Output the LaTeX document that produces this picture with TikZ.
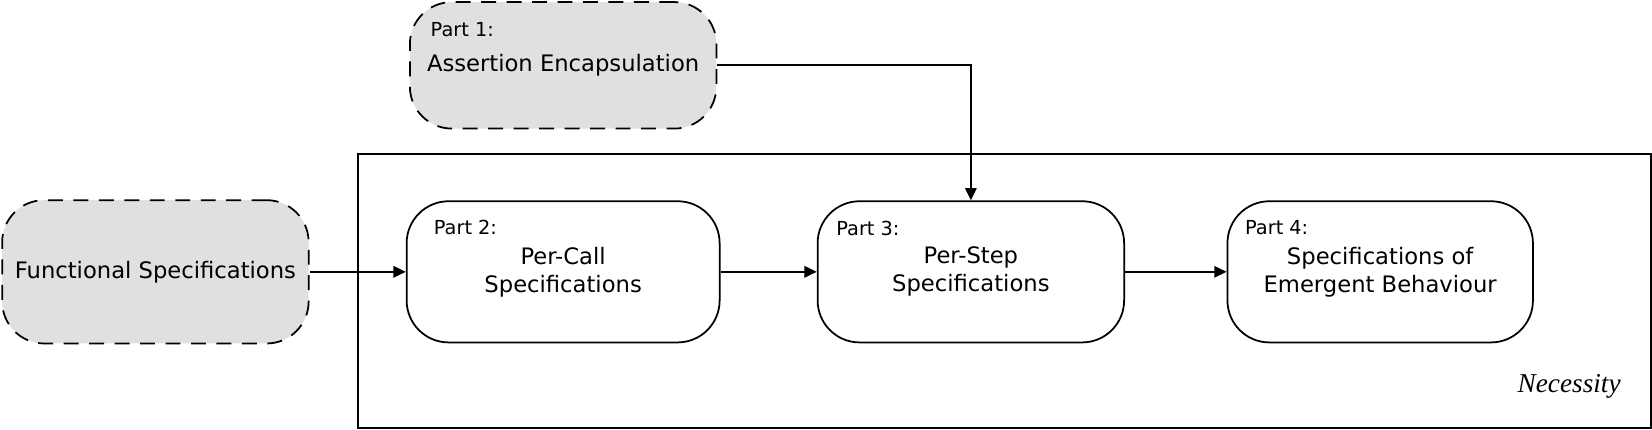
\documentclass[tikz,border=0pt]{standalone}
\usepackage{fontspec}
\newfontfamily\dejavu{DejaVu Sans}
\newfontfamily\libserif{Liberation Serif}
\usetikzlibrary{arrows.meta}

\begin{document}
\begin{tikzpicture}[x=0.021071cm, y=-0.021071cm, >={Triangle[length=7pt,width=6.5pt]}, line width=1pt,
  part/.style={draw, rounded corners=0.84cm, minimum height=2.824cm, align=center, inner sep=0pt,
    font=\dejavu\fontsize{12.9}{16}\selectfont},
  given/.style={part, fill=black!12, dash pattern=on 8.5pt off 6pt},
  tag/.style={anchor=west, inner sep=0pt, font=\dejavu\fontsize{11}{13}\selectfont}]
  \useasboundingbox (0,0) rectangle (1568,408.1);

  % The frame of the necessity parts
  \coordinate (nw) at (340,146);
  \coordinate (se) at (1567,406);
  \draw (nw) rectangle (se);
  \node [anchor=east, inner sep=0pt, font=\libserif\itshape\fontsize{15.5}{18}\selectfont] (nec) at (1539,367) {Necessity};

  % Part 1
  \node [given, minimum width=6.13cm, minimum height=2.53cm] (encap) at (534.5,62) {Assertion Encapsulation};
  \node [tag] (p1) at (408,28) {Part 1:};

  % The given specifications
  \node [given, minimum width=6.13cm, minimum height=2.866cm] (func) at (147.5,258) {Functional Specifications};

  % Part 2
  \node [part, minimum width=6.26cm] (call) at (534.5,258) {Per-Call\\Specifications};
  \node [tag] (p2) at (411,216) {Part 2:};

  % Part 3
  \node [part, minimum width=6.13cm] (stepspec) at (921.5,258) {Per-Step\\Specifications};
  \node [tag] (p3) at (793,217) {Part 3:};

  % Part 4
  \node [part, minimum width=6.11cm] (emerg) at (1310,258) {Specifications of\\Emergent Behaviour};
  \node [tag] (p4) at (1181,216) {Part 4:};

  % The arrows
  \draw [->] (func) -- (call);
  \draw [->] (call) -- (stepspec);
  \draw [->] (stepspec) -- (emerg);
  \draw [->] (encap.east) -| (stepspec.north);
\end{tikzpicture}
\end{document}
